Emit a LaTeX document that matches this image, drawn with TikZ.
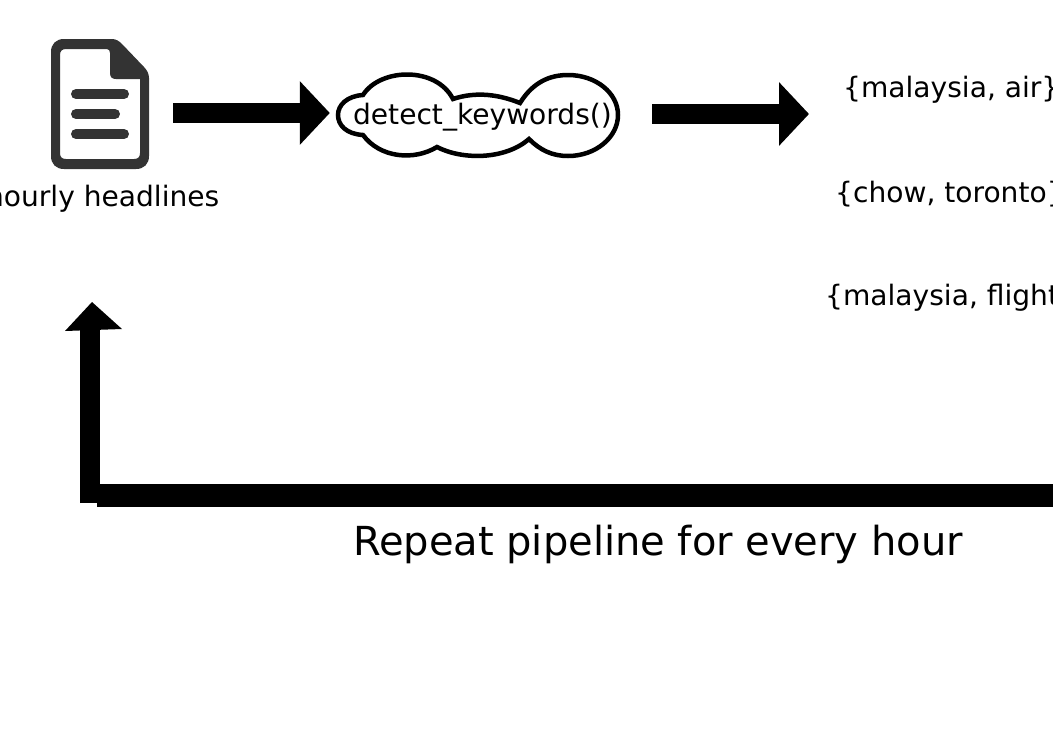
\documentclass[tikz,border=0pt]{standalone}
\usepackage{fontspec}
\usetikzlibrary{arrows.meta}
\setmainfont{DejaVu Sans}
\definecolor{icongray}{RGB}{51,51,51}
\tikzset{
  blockarrow/.style={draw=black,line width=20pt,-{Triangle[length=30pt,width=62pt]}},
  loopshaft/.style={draw=black,line width=20pt},
  smalltext/.style={inner sep=0pt,font=\fontsize{28.1}{34}\selectfont},
  bigtext/.style={inner sep=0pt,font=\fontsize{40}{48}\selectfont}
}
\begin{document}
\begin{tikzpicture}[x=1pt,y=-1pt]
\useasboundingbox (0,0) rectangle (1053,745);
% document icon:
\path[fill=icongray,even odd rule] (64,39) -- (112,39) .. controls (116,39) and (119,41) .. (122,44)
  -- (144,67) .. controls (147,70) and (149,74) .. (149,78) -- (149,156)
  .. controls (149,164) and (144,169) .. (136,169) -- (64,169)
  .. controls (56,169) and (51,164) .. (51,156) -- (51,52)
  .. controls (51,44) and (56,39) .. (64,39) -- cycle
  (66,49) .. controls (62,49) and (60,51) .. (60,55) -- (60,153)
  .. controls (60,157) and (62,159) .. (66,159) -- (134,159)
  .. controls (138,159) and (140,157) .. (140,153) -- (140,79) -- (116,79)
  .. controls (112,79) and (110,77) .. (110,73) -- (110,53)
  .. controls (110,51) and (109,49) .. (107,49) -- cycle;
\path[draw=icongray,line width=10pt,line cap=round] (76,94) -- (124,94);
\path[draw=icongray,line width=10pt,line cap=round] (76,114) -- (115,114);
\path[draw=icongray,line width=10pt,line cap=round] (76,134) -- (124,134);
\node[minimum width=98pt,minimum height=130pt,inner sep=0pt] (headlines) at (100,104) {};
\node[smalltext,anchor=base east] (headlineslabel) at (219.5,206) {hourly headlines};
% cloud:
\path[draw=black,fill=white,line width=4.5pt] (363,95)
  .. controls (380,68) and (436,66) .. (453,99)
  .. controls (477,91) and (500,95) .. (520,103)
  .. controls (533,82) and (550,75) .. (568,75)
  .. controls (596,75) and (618,93) .. (618,115)
  .. controls (618,137) and (596,156) .. (568,156)
  .. controls (552,156) and (540,150) .. (529,139)
  .. controls (505,160) and (462,160) .. (437,147)
  .. controls (414,161) and (380,158) .. (363,135)
  .. controls (346,134) and (338,125) .. (338,115)
  .. controls (338,105) and (347,96) .. (363,95) -- cycle;
\node[smalltext,minimum width=280pt,minimum height=80pt] (detect) at (478,115) {};
\node[smalltext,anchor=base] (detectlabel) at (482.5,124) {detect\_keywords()};
% keyword sets:
\node[smalltext,anchor=base west] (airset) at (843,97) {\{malaysia, air\}};
\node[smalltext,anchor=base west] (chowset) at (835,202) {\{chow, toronto\}};
\node[smalltext,anchor=base west] (flightset) at (825,305) {\{malaysia, flight\}};
% pipeline arrows:
\path[blockarrow] ([shift={(24,9)}]headlines.east) -- ([shift={(-8,-2)}]detect.west);
\path[blockarrow] ([shift={(34,-1)}]detect.east) -- ([shift={(-34,-1)}]airset.west |- detect.east);
% loop back:
\coordinate (loopright) at (1060,495.5);
\coordinate (loopleft) at (97,495.5);
\coordinate (loopcorner) at (90,503);
\coordinate (looptop) at (90,329);
\path[draw=black,line width=23pt] (loopright) -- (loopleft);
\path[loopshaft] (loopcorner) -- (looptop);
\path[fill=black] (65,331) -- (92,302) -- (122,329) -- cycle;
\node[bigtext,anchor=base] (repeatlabel) at (658,555) {Repeat pipeline for every hour};
\end{tikzpicture}
\end{document}
